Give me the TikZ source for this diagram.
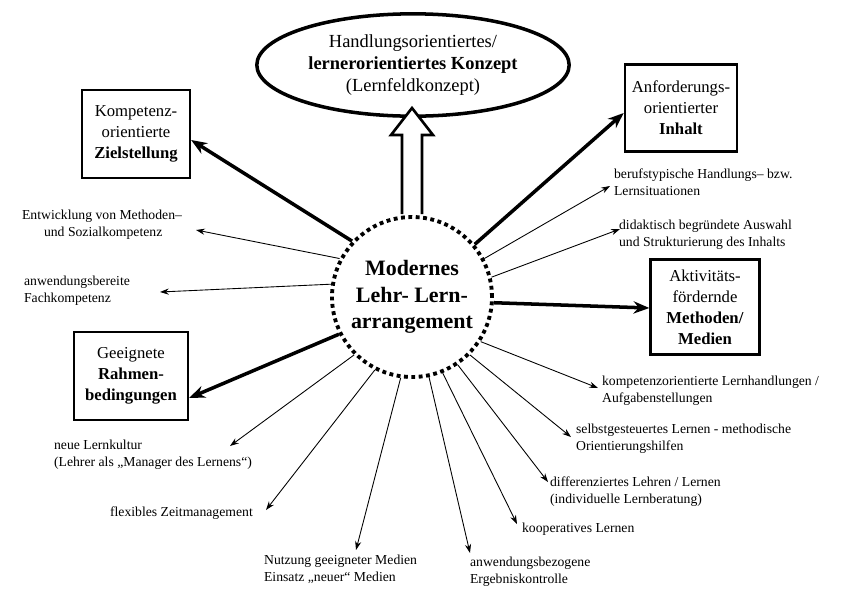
\documentclass[tikz,border=0pt]{standalone}
\usepackage{fontspec}
\setmainfont{Liberation Serif}
\usetikzlibrary{shapes.geometric, arrows.meta}
\tikzset {
    px/.style={x=0.02cm, y=-0.02cm},
    box/.style={draw, line width=1.3pt, align=center, inner sep=4pt, font=\fontsize{9.5}{12}\selectfont},
    note/.style={align=left, inner sep=1pt, font=\fontsize{7.8}{9.8}\selectfont},
    thin/.style={-{Stealth[length=5pt,width=3.5pt]}, line width=0.5pt},
    thick/.style={-{Stealth[length=9pt,width=7pt]}, line width=2pt}
}
\begin{document}
\begin{tikzpicture}[px]
    \useasboundingbox (0,0) rectangle (850,613);
    % centre
    \node[circle, draw, dotted, line width=2.2pt, minimum size=160*0.02cm, align=center,
          font=\bfseries\fontsize{12.5}{15}\selectfont] (c) at (412,297) {Modernes\\Lehr- Lern-\\arrangement};
    % top concept
    \node[ellipse, draw, line width=2pt, minimum width=262*0.02cm, minimum height=86*0.02cm,
          align=center, font=\fontsize{10.5}{12.5}\selectfont] (top) at (413,65)
          {Handlungsorientiertes/\\\textbf{lernerorientiertes Konzept}\\(Lernfeldkonzept)};
    \coordinate (tip) at (412,108);
    \draw[line width=1.5pt, fill=white] (402,214) -- (402,135) -- (391,135) -- (tip)
        -- (433,135) -- (422,135) -- (422,214);
    % boxes
    \node[box, minimum width=108*0.02cm, minimum height=88*0.02cm] (ziel) at (136,134)
          {Kompetenz-\\orientierte\\\textbf{Zielstellung}};
    \node[box, minimum width=107*0.02cm, minimum height=87*0.02cm] (inhalt) at (681,108)
          {Anforderungs-\\orientierter\\\textbf{Inhalt}};
    \node[box, minimum width=109*0.02cm, minimum height=95*0.02cm] (meth) at (705,307)
          {Aktivitäts-\\fördernde\\\textbf{Methoden/}\\\textbf{Medien}};
    \node[box, minimum width=114*0.02cm, minimum height=88*0.02cm] (rahmen) at (131,376)
          {Geeignete\\\textbf{Rahmen-}\\\textbf{bedingungen}};
    \draw[thick] (c.137) -- (ziel.east |- 0,140);
    \draw[thick] (c.40) -- (inhalt.west |- 0,113);
    \draw[thick] (c.356) -- (meth.west |- 0,308);
    \draw[thick] (c.207) -- (rahmen.east |- 0,398);
    % notes
    \node[note, anchor=north west] (entw) at (20,208) {Entwicklung von Methoden–\\\hspace*{1.6em}und Sozialkompetenz};
    \node[note, anchor=north west] (fach) at (22,274) {anwendungsbereite\\Fachkompetenz};
    \node[note, anchor=north west] (beruf) at (612,167) {berufstypische Handlungs– bzw.\\Lernsituationen};
    \node[note, anchor=north west] (didak) at (617,218) {didaktisch begründete Auswahl\\und Strukturierung des Inhalts};
    \node[note, anchor=north west] (komp) at (600,374) {kompetenzorientierte Lernhandlungen /\\Aufgabenstellungen};
    \node[note, anchor=north west] (selbst) at (574,422) {selbstgesteuertes Lernen - methodische\\Orientierungshilfen};
    \node[note, anchor=north west] (diff) at (548,475) {differenziertes Lehren / Lernen\\(individuelle Lernberatung)};
    \node[note, anchor=north west] (koop) at (520,521) {kooperatives Lernen};
    \node[note, anchor=north west] (anw) at (468,555) {anwendungsbezogene\\Ergebniskontrolle};
    \node[note, anchor=north west] (nutz) at (262,553) {Nutzung geeigneter Medien\\Einsatz „neuer“ Medien};
    \node[note, anchor=north west] (flex) at (108,505) {flexibles Zeitmanagement};
    \node[note, anchor=north west] (lern) at (52,438) {neue Lernkultur\\(Lehrer als „Manager des Lernens“)};
    \draw[thin] (c.152) -- (196,230);
    \draw[thin] (c.171) -- (160,292);
    \draw[thin] (c.28) -- (610,186);
    \draw[thin] (c.14) -- (620,229);
    \draw[thin] (c.327) -- (598,388);
    \draw[thin] (c.315) -- (571,437);
    \draw[thin] (c.304) -- (548,482);
    \draw[thin] (c.292) -- (517,524);
    \draw[thin] (c.282) -- (470,553);
    \draw[thin] (c.262) -- (356,550);
    \draw[thin] (c.243) -- (266,510);
    \draw[thin] (c.225) -- (230,446);
\end{tikzpicture}
\end{document}
